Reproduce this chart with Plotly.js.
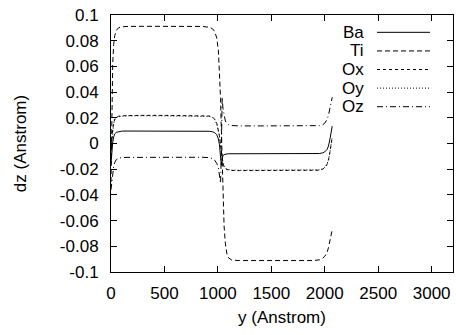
<!DOCTYPE html>
<html>
<head>
<meta charset="utf-8">
<script src="https://cdn.plot.ly/plotly-3.0.1.min.js"></script>
<style>
html,body{margin:0;padding:0;background:#fff;}
#chart{width:456px;height:335px;}
</style>
</head>
<body>
<div id="chart"></div>
<script>
// Position along y (Angstrom)
const yPos = [0, 8, 16, 25, 35, 50, 70, 100, 150, 300, 500, 700, 850, 920, 950, 970, 990, 1005, 1015, 1025, 1032, 1040, 1048, 1058, 1070, 1085, 1100, 1130, 1200, 1400, 1600, 1800, 1900, 1950, 1980, 2000, 2020, 2035, 2050, 2060, 2070];

const dzBa = [-0.016, -0.006, 0.001, 0.005, 0.0075, 0.0087, 0.0093, 0.0096, 0.0097, 0.0097, 0.0097, 0.0097, 0.0097, 0.0095, 0.0091, 0.0085, 0.0068, 0.0035, -0.001, -0.009, -0.017, -0.012, -0.0095, -0.0087, -0.0083, -0.0081, -0.0080, -0.0080, -0.0080, -0.0080, -0.0080, -0.0080, -0.0080, -0.0078, -0.0073, -0.0065, -0.0048, -0.002, 0.004, 0.0085, 0.0135];

const dzTi = [-0.03, 0.03, 0.062, 0.077, 0.084, 0.088, 0.0900, 0.0908, 0.0911, 0.0912, 0.0912, 0.0912, 0.0911, 0.0905, 0.0893, 0.0872, 0.082, 0.072, 0.058, 0.035, 0.012, -0.018, -0.042, -0.064, -0.078, -0.086, -0.089, -0.0907, -0.0911, -0.0912, -0.0912, -0.0912, -0.0911, -0.0905, -0.0893, -0.0878, -0.0852, -0.081, -0.076, -0.072, -0.067];

const dzOx = [-0.006, 0.004, 0.011, 0.016, 0.019, 0.0205, 0.0212, 0.0216, 0.0218, 0.0219, 0.0219, 0.0219, 0.0219, 0.0214, 0.0205, 0.019, 0.0155, 0.011, 0.006, -0.001, -0.007, -0.012, -0.0155, -0.018, -0.0195, -0.0203, -0.0207, -0.021, -0.0211, -0.0211, -0.0211, -0.0211, -0.0211, -0.0208, -0.0200, -0.0188, -0.0165, -0.013, -0.006, -0.001, 0.005];

const dzOy = [-0.007, 0.003, 0.010, 0.0155, 0.0185, 0.0202, 0.0209, 0.0213, 0.0215, 0.0216, 0.0216, 0.0216, 0.0216, 0.0211, 0.0202, 0.0187, 0.0152, 0.0107, 0.0057, -0.0013, -0.0068, -0.0118, -0.0152, -0.0177, -0.0192, -0.0200, -0.0204, -0.0207, -0.0208, -0.0208, -0.0208, -0.0208, -0.0208, -0.0205, -0.0197, -0.0185, -0.0162, -0.0127, -0.0058, -0.0008, 0.0052];

const dzOz = [-0.036, -0.029, -0.023, -0.018, -0.0148, -0.0125, -0.0115, -0.0110, -0.0108, -0.0107, -0.0107, -0.0107, -0.0107, -0.0110, -0.0118, -0.013, -0.0155, -0.019, -0.024, -0.031, -0.010, 0.036, 0.027, 0.021, 0.0175, 0.0155, 0.0146, 0.014, 0.0137, 0.0137, 0.0137, 0.0137, 0.0137, 0.0139, 0.0146, 0.0158, 0.0185, 0.022, 0.028, 0.032, 0.036];

const seriesNames = ["Ba", "Ti", "Ox", "Oy", "Oz"];
const xTickVals = [0, 500, 1000, 1500, 2000, 2500, 3000];
const xTickText = ["0", "500", "1000", "1500", "2000", "2500", "3000"];
const yTickVals = [0.1, 0.08, 0.06, 0.04, 0.02, 0, -0.02, -0.04, -0.06, -0.08, -0.1];
const yTickText = ["0.1", "0.08", "0.06", "0.04", "0.02", "0", "-0.02", "-0.04", "-0.06", "-0.08", "-0.1"];

const seriesData = [dzBa, dzTi, dzOx, dzOy, dzOz];
const dashes = ["solid", "5px,3px", "3px,3px", "1px,2px", "6px,3px,1px,3px"];

const FONT = "Liberation Sans, Arial, Helvetica, sans-serif";
const traces = seriesNames.map((n, i) => ({
  type: "scatter", mode: "lines", name: n,
  x: yPos, y: seriesData[i],
  line: {color: "#000", width: 1, dash: dashes[i]},
  showlegend: false
}));

// gnuplot-style key: text right-aligned, sample line to the right
const keyY = [0.9326, 0.8602, 0.7879, 0.7155, 0.6432];
const annotations = seriesNames.map((n, i) => ({
  xref: "paper", yref: "paper", x: 0.7456, y: keyY[i],
  xanchor: "right", yanchor: "middle", showarrow: false,
  text: n, font: {family: FONT, size: 17, color: "#000"}
}));
const shapes = seriesNames.map((n, i) => ({
  type: "line", xref: "paper", yref: "paper",
  x0: 0.7778, x1: 0.9327, y0: keyY[i], y1: keyY[i],
  line: {color: "#000", width: 1, dash: dashes[i]}
}));

const layout = {
  width: 456, height: 335,
  margin: {l: 111, r: 3, t: 15, b: 63},
  paper_bgcolor: "#fff", plot_bgcolor: "#fff",
  font: {family: FONT, size: 17, color: "#000"},
  showlegend: false,
  xaxis: {
    range: [0, 3200], tickvals: xTickVals, ticktext: xTickText,
    ticks: "inside", ticklen: 6, tickcolor: "#000", tickwidth: 1,
    showline: true, linecolor: "#000", linewidth: 1, mirror: "ticks",
    showgrid: false, zeroline: false, ticklabelstandoff: 6,
    title: {text: "y (Anstrom)", font: {family: FONT, size: 17}, standoff: 8}
  },
  yaxis: {
    range: [-0.1, 0.1], tickvals: yTickVals, ticktext: yTickText,
    ticks: "inside", ticklen: 6, tickcolor: "#000", tickwidth: 1,
    showline: true, linecolor: "#000", linewidth: 1, mirror: "ticks",
    showgrid: false, zeroline: false, ticklabelstandoff: 8,
    title: {text: "dz (Anstrom)", font: {family: FONT, size: 17}, standoff: 28}
  },
  annotations: annotations,
  shapes: shapes
};

Plotly.newPlot("chart", traces, layout, {staticPlot: true, displayModeBar: false});
</script>
</body>
</html>
